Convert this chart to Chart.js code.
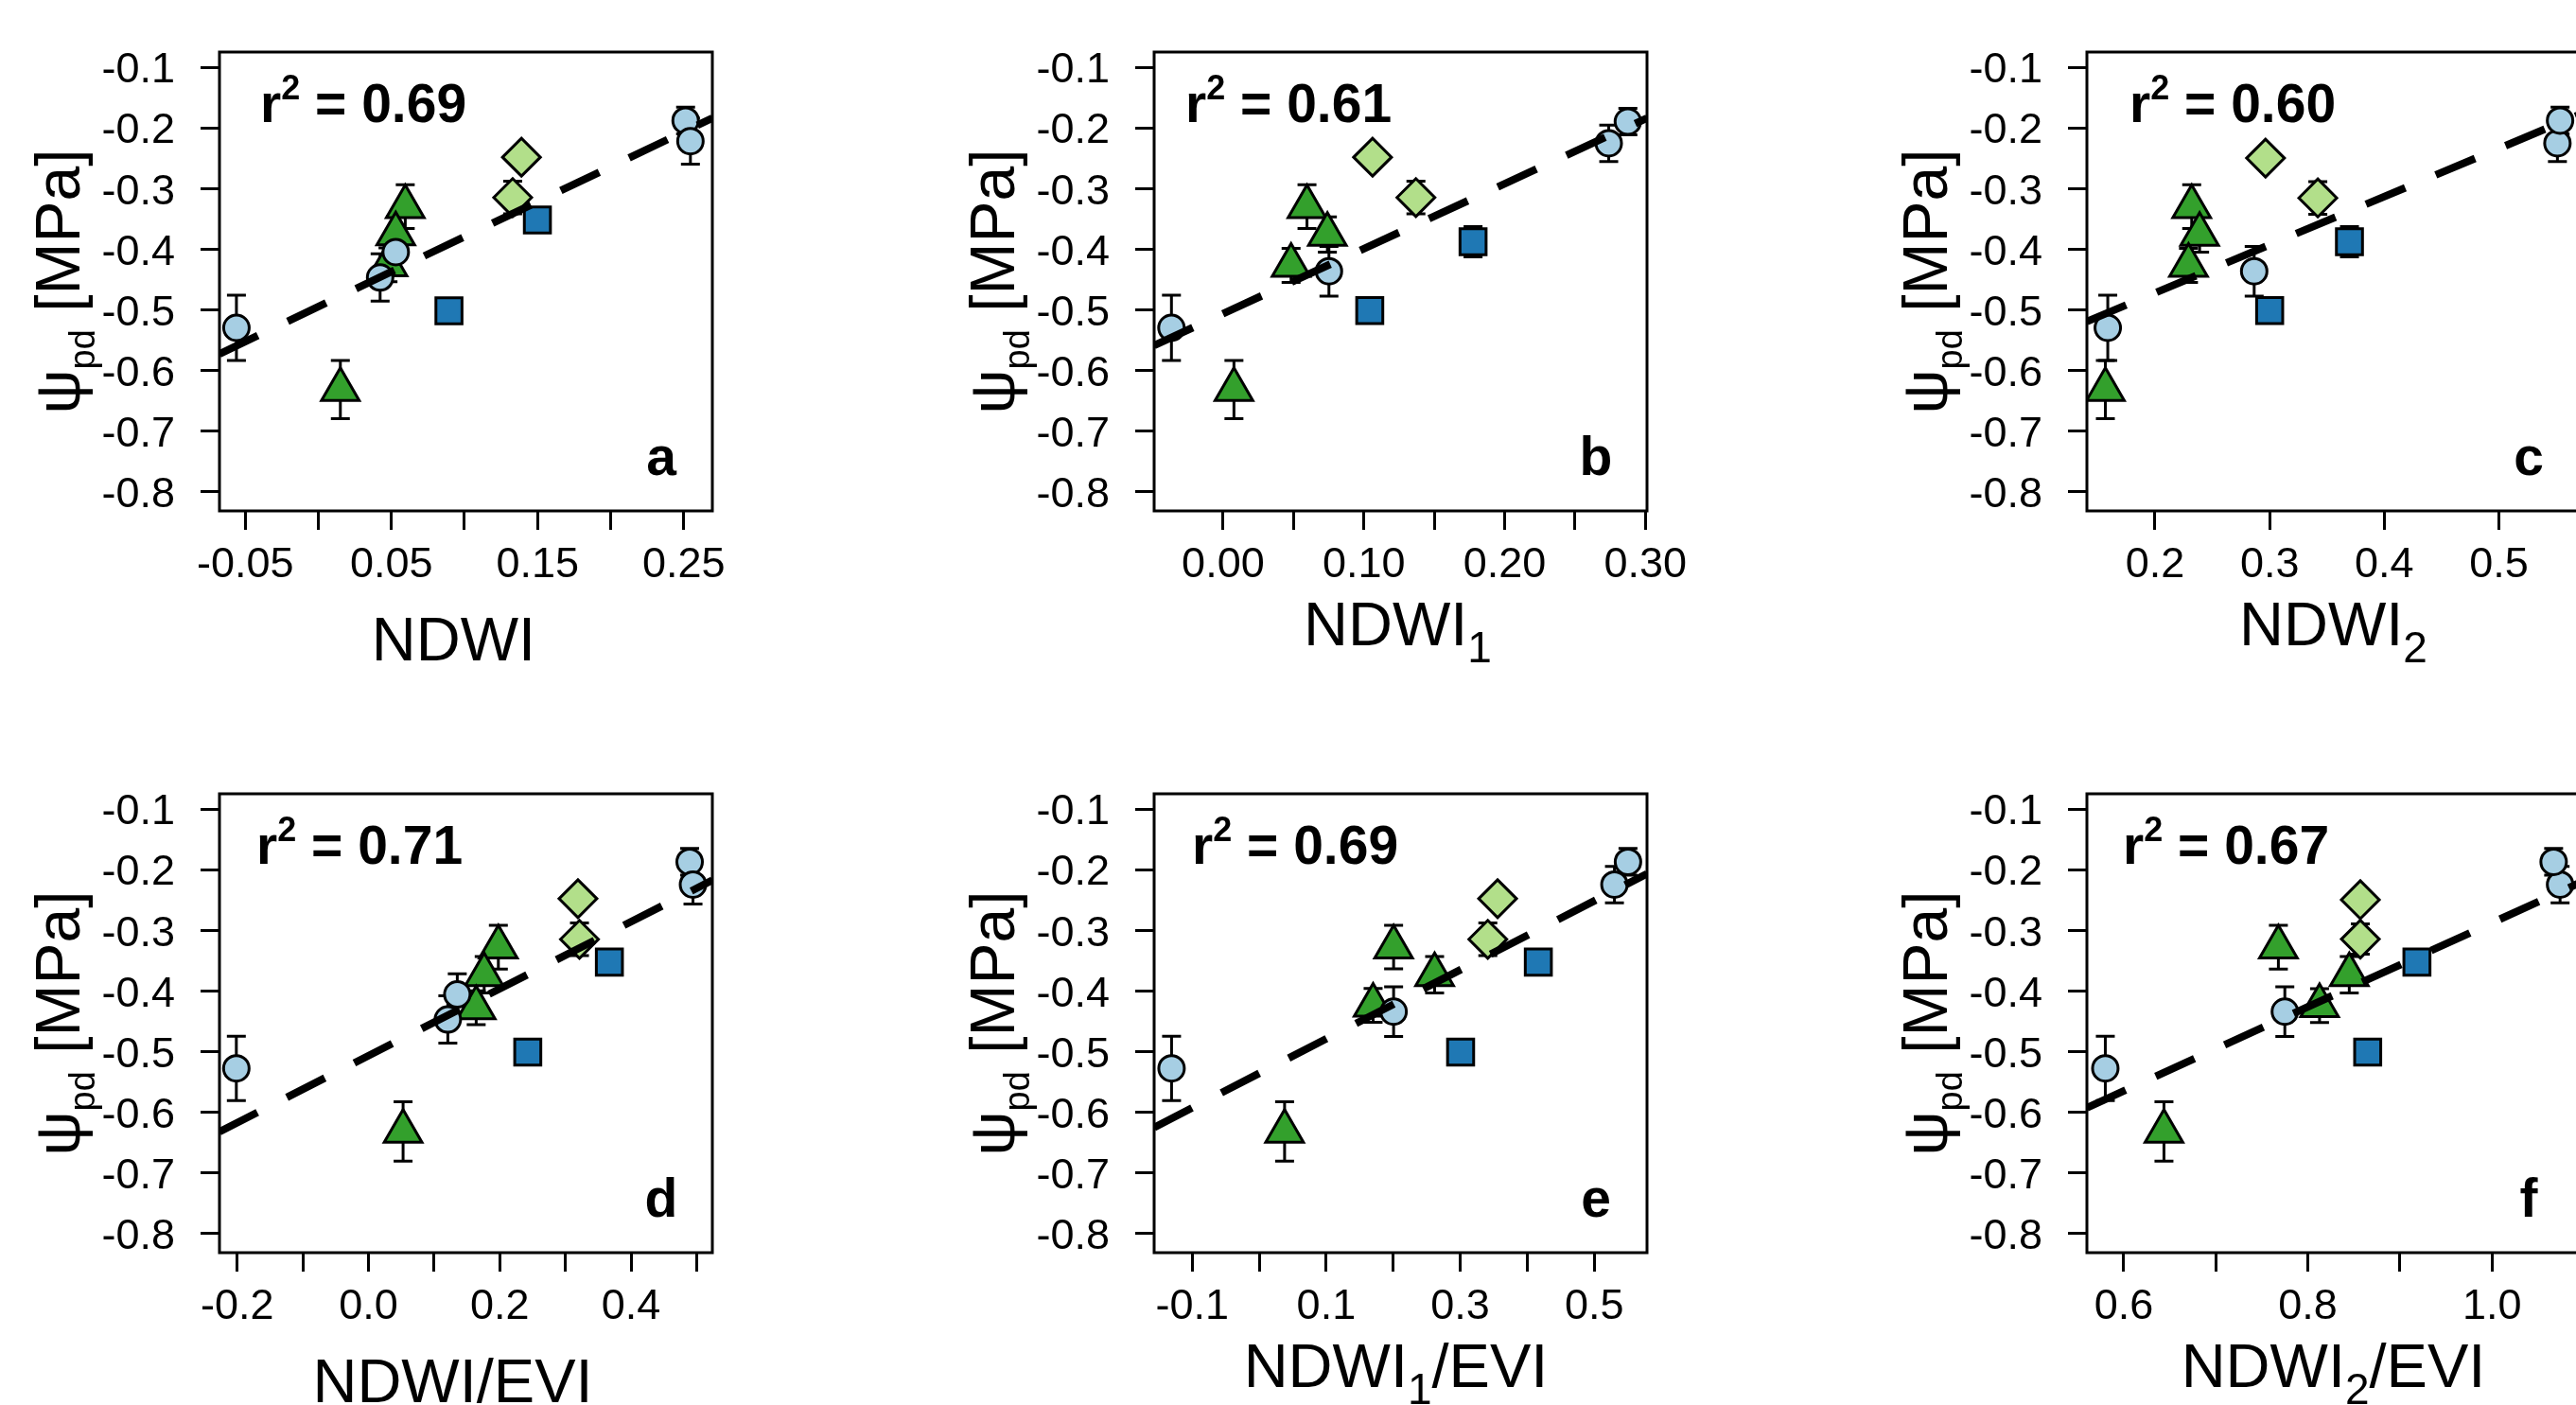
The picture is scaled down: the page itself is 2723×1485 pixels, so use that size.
<!DOCTYPE html>
<html>
<head>
<meta charset="utf-8">
<script src="https://cdn.jsdelivr.net/npm/chart.js@4.4.1/dist/chart.umd.min.js"></script>
<style>
html, body { margin:0; padding:0; background:#ffffff; width:2723px; height:1485px; overflow:hidden; }
canvas { position:absolute; display:block; }
</style>
</head>
<body>
<script>
// ---------------- shared labels / axis data ----------------
const yTickValues = [-0.1, -0.2, -0.3, -0.4, -0.5, -0.6, -0.7, -0.8];
const yTickLabels = ['-0.1', '-0.2', '-0.3', '-0.4', '-0.5', '-0.6', '-0.7', '-0.8'];
const yRange = [-0.832, -0.075];
const panelLetters = ['a', 'b', 'c', 'd', 'e', 'f'];
const r2Labels = ['0.69', '0.61', '0.60', '0.71', '0.69', '0.67'];
const xTitleMain = ['NDWI', 'NDWI', 'NDWI', 'NDWI', 'NDWI', 'NDWI'];
const xTitleSub = ['', '1', '2', '', '1', '2'];
const xTitleTail = ['', '', '', '/EVI', '/EVI', '/EVI'];

// ---------------- panel a : NDWI ----------------
const xTicksA = [-0.05, 0, 0.05, 0.10, 0.15, 0.20, 0.25];
const xTickLabelsA = ['-0.05', '', '0.05', '', '0.15', '', '0.25'];
const xRangeA = [-0.0676, 0.2696];
const circleXA = [-0.056, 0.0423, 0.053, 0.2513, 0.2546];
const circleYA = [-0.530, -0.447, -0.405, -0.188, -0.222];
const circleErrA = [0.054, 0.039, 0.034, 0.022, 0.038];
const triXA = [0.0151, 0.0595, 0.053, 0.0477];
const triYA = [-0.632, -0.330, -0.375, -0.426];
const triErrA = [0.048, 0.036, 0.029, 0.028];
const diaXA = [0.139, 0.133];
const diaYA = [-0.2485, -0.315];
const diaErrA = [0, 0.027];
const sqXA = [0.1499, 0.0894];
const sqYA = [-0.352, -0.502];
const sqErrA = [0, 0];
const fitXA = [-0.0676, 0.2696];
const fitYA = [-0.573, -0.184];

// ---------------- panel b : NDWI1 ----------------
const xTicksB = [0, 0.05, 0.10, 0.15, 0.20, 0.25, 0.30];
const xTickLabelsB = ['0.00', '', '0.10', '', '0.20', '', '0.30'];
const xRangeB = [-0.049, 0.3012];
const circleXB = [-0.0367, 0.0752, 0.274, 0.2876];
const circleYB = [-0.530, -0.4366, -0.2255, -0.1897];
const circleErrB = [0.054, 0.041, 0.030, 0.022];
const triXB = [0.0077, 0.0596, 0.0741, 0.0483];
const triYB = [-0.632, -0.330, -0.376, -0.427];
const triErrB = [0.048, 0.036, 0.029, 0.028];
const diaXB = [0.1062, 0.137];
const diaYB = [-0.2485, -0.315];
const diaErrB = [0, 0.027];
const sqXB = [0.1776, 0.1042];
const sqYB = [-0.388, -0.5016];
const sqErrB = [0.025, 0];
const fitXB = [-0.049, 0.3012];
const fitYB = [-0.559, -0.184];

// ---------------- panel c : NDWI2 ----------------
const xTicksC = [0.2, 0.3, 0.4, 0.5];
const xTickLabelsC = ['0.2', '0.3', '0.4', '0.5'];
const xRangeC = [0.1406, 0.5705];
const circleXC = [0.1588, 0.2865, 0.551, 0.5533];
const circleYC = [-0.530, -0.4366, -0.2255, -0.188];
const circleErrC = [0.054, 0.041, 0.030, 0.022];
const triXC = [0.1567, 0.232, 0.2389, 0.2292];
const triYC = [-0.632, -0.330, -0.376, -0.427];
const triErrC = [0.048, 0.036, 0.029, 0.028];
const diaXC = [0.2964, 0.342];
const diaYC = [-0.250, -0.3157];
const diaErrC = [0, 0.027];
const sqXC = [0.3696, 0.300];
const sqYC = [-0.388, -0.5015];
const sqErrC = [0.025, 0];
const fitXC = [0.1406, 0.5705];
const fitYC = [-0.5196, -0.178];

// ---------------- panel d : NDWI/EVI ----------------
const xTicksD = [-0.2, -0.1, 0, 0.1, 0.2, 0.3, 0.4, 0.5];
const xTickLabelsD = ['-0.2', '', '0.0', '', '0.2', '', '0.4', ''];
const xRangeD = [-0.2272, 0.5239];
const circleXD = [-0.2015, 0.1352, 0.1208, 0.4893, 0.4944];
const circleYD = [-0.528, -0.406, -0.4473, -0.1873, -0.2248];
const circleErrD = [0.053, 0.034, 0.039, 0.022, 0.032];
const triXD = [0.0526, 0.1978, 0.1762, 0.164];
const triYD = [-0.632, -0.328, -0.3735, -0.428];
const triErrD = [0.049, 0.036, 0.030, 0.028];
const diaXD = [0.3191, 0.3214];
const diaYD = [-0.248, -0.315];
const diaErrD = [0, 0.027];
const sqXD = [0.367, 0.2426];
const sqYD = [-0.3526, -0.5012];
const sqErrD = [0, 0];
const fitXD = [-0.2272, 0.5239];
const fitYD = [-0.6326, -0.2176];

// ---------------- panel e : NDWI1/EVI ----------------
const xTicksE = [-0.1, 0, 0.1, 0.2, 0.3, 0.4, 0.5];
const xTickLabelsE = ['-0.1', '', '0.1', '', '0.3', '', '0.5'];
const xRangeE = [-0.1568, 0.5788];
const circleXE = [-0.1308, 0.2006, 0.5302, 0.5504];
const circleYE = [-0.528, -0.4344, -0.2248, -0.1873];
const circleErrE = [0.053, 0.041, 0.030, 0.022];
const triXE = [0.0379, 0.2006, 0.2618, 0.170];
const triYE = [-0.632, -0.3278, -0.3735, -0.424];
const triErrE = [0.049, 0.036, 0.030, 0.028];
const diaXE = [0.3558, 0.3412];
const diaYE = [-0.248, -0.315];
const diaErrE = [0, 0.027];
const sqXE = [0.4166, 0.3006];
const sqYE = [-0.3526, -0.5012];
const sqErrE = [0, 0];
const fitXE = [-0.1568, 0.5788];
const fitYE = [-0.6254, -0.2068];

// ---------------- panel f : NDWI2/EVI ----------------
const xTicksF = [0.6, 0.7, 0.8, 0.9, 1.0];
const xTickLabelsF = ['0.6', '', '0.8', '', '1.0'];
const xRangeF = [0.560, 1.0954];
const circleXF = [0.580, 0.775, 1.074, 1.067];
const circleYF = [-0.528, -0.4344, -0.2248, -0.1873];
const circleErrF = [0.053, 0.041, 0.030, 0.022];
const triXF = [0.6437, 0.768, 0.845, 0.8127];
const triYF = [-0.632, -0.328, -0.3735, -0.4245];
const triErrF = [0.049, 0.036, 0.030, 0.028];
const diaXF = [0.857, 0.857];
const diaYF = [-0.2498, -0.3147];
const diaErrF = [0, 0.025];
const sqXF = [0.9185, 0.865];
const sqYF = [-0.3526, -0.5012];
const sqErrF = [0, 0];
const fitXF = [0.560, 1.0954];
const fitYF = [-0.593, -0.2217];

// ---------------- layout (positions only) ----------------
const FONT = '"Liberation Sans", Arial, Helvetica, sans-serif';
const colLeft = [232, 1220, 2206];
const rowTop = [55, 839];
const boxW = 521, boxH = 485;
const padLeft = 232, padTop = 55, padRight = 60, axisH = 200;
const rLeftOffset = [43, 33, 45, 39, 40, 38];
const xTitleShift = [-13, -3, 0, -14, -5, 0];

const colors = { circle: '#a6cee3', tri: '#33a02c', dia: '#b2df8a', sq: '#1f78b4' };

const panelData = [
  { xt: xTicksA, xl: xTickLabelsA, xr: xRangeA, c: [circleXA, circleYA, circleErrA], t: [triXA, triYA, triErrA], d: [diaXA, diaYA, diaErrA], s: [sqXA, sqYA, sqErrA], f: [fitXA, fitYA] },
  { xt: xTicksB, xl: xTickLabelsB, xr: xRangeB, c: [circleXB, circleYB, circleErrB], t: [triXB, triYB, triErrB], d: [diaXB, diaYB, diaErrB], s: [sqXB, sqYB, sqErrB], f: [fitXB, fitYB] },
  { xt: xTicksC, xl: xTickLabelsC, xr: xRangeC, c: [circleXC, circleYC, circleErrC], t: [triXC, triYC, triErrC], d: [diaXC, diaYC, diaErrC], s: [sqXC, sqYC, sqErrC], f: [fitXC, fitYC] },
  { xt: xTicksD, xl: xTickLabelsD, xr: xRangeD, c: [circleXD, circleYD, circleErrD], t: [triXD, triYD, triErrD], d: [diaXD, diaYD, diaErrD], s: [sqXD, sqYD, sqErrD], f: [fitXD, fitYD] },
  { xt: xTicksE, xl: xTickLabelsE, xr: xRangeE, c: [circleXE, circleYE, circleErrE], t: [triXE, triYE, triErrE], d: [diaXE, diaYE, diaErrE], s: [sqXE, sqYE, sqErrE], f: [fitXE, fitYE] },
  { xt: xTicksF, xl: xTickLabelsF, xr: xRangeF, c: [circleXF, circleYF, circleErrF], t: [triXF, triYF, triErrF], d: [diaXF, diaYF, diaErrF], s: [sqXF, sqYF, sqErrF], f: [fitXF, fitYF] }
];

function pts(xs, ys) { return xs.map((x, i) => ({ x: x, y: ys[i] })); }

const decoPlugin = {
  id: 'deco',
  beforeDatasetsDraw(chart) {
    const ctx = chart.ctx, ys = chart.scales.y;
    ctx.save();
    ctx.strokeStyle = '#000'; ctx.lineWidth = 3; ctx.lineCap = 'butt';
    chart.data.datasets.forEach((ds, di) => {
      if (!ds.errs) return;
      const meta = chart.getDatasetMeta(di);
      ds.data.forEach((p, i) => {
        const e = ds.errs[i];
        if (!e) return;
        const x = meta.data[i].x;
        const yt = ys.getPixelForValue(p.y + e), yb = ys.getPixelForValue(p.y - e);
        ctx.beginPath();
        ctx.moveTo(x, yt); ctx.lineTo(x, yb);
        ctx.moveTo(x - 10, yt); ctx.lineTo(x + 10, yt);
        ctx.moveTo(x - 10, yb); ctx.lineTo(x + 10, yb);
        ctx.stroke();
      });
    });
    ctx.restore();
  },
  afterDraw(chart, args, o) {
    const ctx = chart.ctx, a = chart.chartArea;
    ctx.save();
    ctx.strokeStyle = '#000'; ctx.lineWidth = 3;
    ctx.strokeRect(a.left, a.top, a.right - a.left, a.bottom - a.top);
    ctx.fillStyle = '#000';
    ctx.textBaseline = 'alphabetic';
    // r^2 annotation
    ctx.textAlign = 'left';
    let x = a.left + o.rLeft;
    const by = a.top + 73.5;
    ctx.font = 'bold 57px ' + FONT;
    ctx.fillText('r', x, by); x += ctx.measureText('r').width;
    ctx.font = 'bold 36px ' + FONT;
    ctx.fillText('2', x, by - 24); x += ctx.measureText('2').width;
    ctx.font = 'bold 57px ' + FONT;
    ctx.fillText(' = ' + o.r2, x, by);
    // panel letter
    ctx.textAlign = 'center';
    ctx.fillText(o.letter, a.right - 54, a.bottom - 38);
    // x title
    ctx.textAlign = 'left';
    const mainF = '65px ' + FONT, subF = '46px ' + FONT;
    ctx.font = mainF; const w1 = ctx.measureText(o.xMain).width;
    ctx.font = subF; const w2 = o.xSub ? ctx.measureText(o.xSub).width : 0;
    ctx.font = mainF; const w3 = o.xTail ? ctx.measureText(o.xTail).width : 0;
    let tx = (a.left + a.right) / 2 + o.xShift - (w1 + w2 + w3) / 2;
    const tby = a.bottom + (o.xSub ? 142 : 158);
    ctx.font = mainF; ctx.fillText(o.xMain, tx, tby); tx += w1;
    if (o.xSub) { ctx.font = subF; ctx.fillText(o.xSub, tx, tby + 18); tx += w2; }
    if (o.xTail) { ctx.font = mainF; ctx.fillText(o.xTail, tx, tby); }
    // y title (rotated)
    ctx.translate(a.left - 148, (a.top + a.bottom) / 2);
    ctx.rotate(-Math.PI / 2);
    const yMainF = '66px ' + FONT, ySubF = '38px ' + FONT;
    ctx.font = yMainF; const v1 = ctx.measureText('ψ').width;
    ctx.font = ySubF; const v2 = ctx.measureText('pd').width;
    ctx.font = yMainF; const v3 = ctx.measureText(' [MPa]').width;
    let yx = -(v1 + v2 + v3) / 2;
    ctx.font = yMainF; ctx.fillText('ψ', yx, 0); yx += v1;
    ctx.font = ySubF; ctx.fillText('pd', yx, 16); yx += v2;
    ctx.font = yMainF; ctx.fillText(' [MPa]', yx, 0);
    ctx.restore();
  }
};

Chart.defaults.font.family = FONT;
Chart.defaults.color = '#000';

panelData.forEach((p, k) => {
  const col = k % 3, row = Math.floor(k / 3);
  const cv = document.createElement('canvas');
  const W = padLeft + boxW + padRight, H = padTop + boxH + axisH;
  cv.width = W; cv.height = H;
  cv.style.width = W + 'px'; cv.style.height = H + 'px';
  cv.style.left = (colLeft[col] - padLeft) + 'px';
  cv.style.top = (rowTop[row] - padTop) + 'px';
  document.body.appendChild(cv);

  const markerCommon = { showLine: false, pointBorderColor: '#000', pointBorderWidth: 3, pointHoverRadius: 0 };
  new Chart(cv.getContext('2d'), {
    type: 'scatter',
    data: {
      datasets: [
        { data: pts(p.f[0], p.f[1]), showLine: true, borderColor: '#000', borderWidth: 8, borderDash: [45, 35], borderCapStyle: 'butt', pointRadius: 0, fill: false },
        Object.assign({ data: pts(p.c[0], p.c[1]), errs: p.c[2], pointStyle: 'circle', pointRadius: 13.5, pointBackgroundColor: colors.circle }, markerCommon),
        Object.assign({ data: pts(p.t[0], p.t[1]), errs: p.t[2], pointStyle: 'triangle', pointRadius: 23, pointBackgroundColor: colors.tri }, markerCommon),
        Object.assign({ data: pts(p.s[0], p.s[1]), errs: p.s[2], pointStyle: 'rect', pointRadius: 19.5, pointBackgroundColor: colors.sq }, markerCommon),
        Object.assign({ data: pts(p.d[0], p.d[1]), errs: p.d[2], pointStyle: 'rectRot', pointRadius: 20, pointBackgroundColor: colors.dia }, markerCommon)
      ]
    },
    options: {
      responsive: false,
      animation: false,
      devicePixelRatio: 1,
      events: [],
      layout: { padding: { left: 0, top: padTop, right: padRight, bottom: 0 } },
      plugins: {
        legend: { display: false },
        tooltip: { enabled: false },
        deco: { rLeft: rLeftOffset[k], r2: r2Labels[k], letter: panelLetters[k], xMain: xTitleMain[k], xSub: xTitleSub[k], xTail: xTitleTail[k], xShift: xTitleShift[k] }
      },
      scales: {
        x: {
          type: 'linear', position: 'bottom', min: p.xr[0], max: p.xr[1],
          afterBuildTicks: s => { s.ticks = p.xt.map(v => ({ value: v })); },
          afterFit: s => { s.height = axisH; s.paddingLeft = 0; s.paddingRight = 0; },
          border: { display: false },
          grid: { drawOnChartArea: false, drawTicks: true, tickLength: 20, tickWidth: 3, tickColor: '#000' },
          ticks: { autoSkip: false, maxRotation: 0, minRotation: 0, padding: 11, color: '#000', font: { size: 45, family: FONT }, callback: (v, i) => p.xl[i] }
        },
        y: {
          type: 'linear', position: 'left', min: yRange[0], max: yRange[1],
          afterBuildTicks: s => { s.ticks = yTickValues.map(v => ({ value: v })); },
          afterFit: s => { s.width = padLeft; s.paddingTop = 0; s.paddingBottom = 0; },
          border: { display: false },
          grid: { drawOnChartArea: false, drawTicks: true, tickLength: 20, tickWidth: 3, tickColor: '#000' },
          ticks: { autoSkip: false, padding: 27, labelOffset: 4, color: '#000', font: { size: 45, family: FONT }, callback: (v, i) => yTickLabels[i] }
        }
      }
    },
    plugins: [decoPlugin]
  });
});
</script>
</body>
</html>
